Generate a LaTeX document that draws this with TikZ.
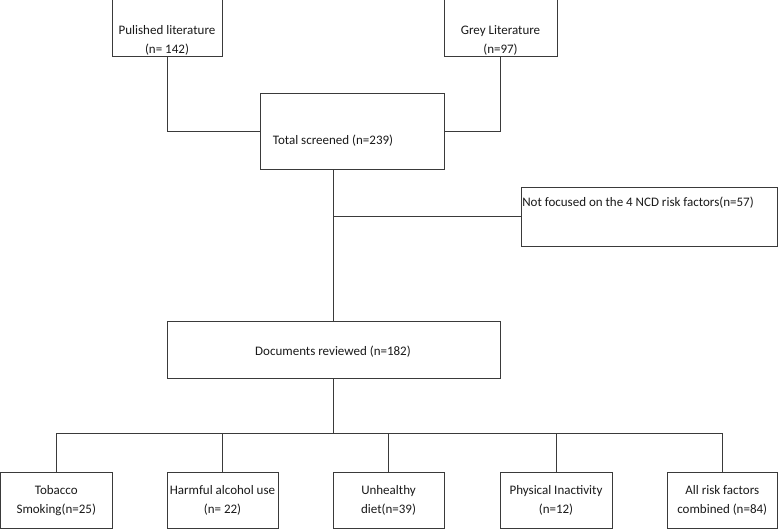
\documentclass[tikz,border=0pt]{standalone}
\usepackage{fontspec}
\setmainfont{Carlito}
\usetikzlibrary{calc,positioning}
\definecolor{flowLine}{HTML}{3A3A3A}
\definecolor{flowInk}{HTML}{1A1A1A}
\begin{document}
\begin{tikzpicture}[x=1pt,y=-1pt,line cap=butt,line join=miter]
\useasboundingbox[fill=white] (0,0) rectangle (778,529);
\tikzset{box/.style={draw=flowLine,line width=1pt,inner sep=0pt,fill=white},txt/.style={text=flowInk,font=\fontsize{13}{19}\selectfont,align=center,inner sep=0pt},link/.style={draw=flowLine,line width=1pt}}
% sources
\node[box,minimum width=110pt,minimum height=57pt] (pub) at (167,28.5) {};
\node[box,minimum width=113pt,minimum height=57pt] (grey) at (500.5,28.5) {};
\node[txt] (pubtxt) at (167,40) {Pulished literature\\(n= 142)};
\node[txt] (greytxt) at (500.5,40) {Grey Literature\\(n=97)};
% screening
\node[box,minimum width=184pt,minimum height=76pt] (total) at (352,132) {};
\node[txt] (totaltxt) at (333,141) {Total screened (n=239)};
\node[box,minimum width=256pt,minimum height=58pt] (ncd) at (649,217) {};
\node[txt] (ncdtxt) at (638,203) {Not focused on the 4 NCD risk factors(n=57)};
\node[box,minimum width=333pt,minimum height=57pt] (docs) at (333.5,349.5) {};
\node[txt] (docstxt) at (333,352) {Documents reviewed (n=182)};
% risk factors
\node[box,minimum width=111.5pt,minimum height=56.5pt] (tob) at (56.25,500.25) {};
\node[box,minimum width=111pt,minimum height=56.5pt] (alc) at (222.5,500.25) {};
\node[box,minimum width=111pt,minimum height=56.5pt] (diet) at (388.5,500.25) {};
\node[box,minimum width=112pt,minimum height=56.5pt] (phys) at (556,500.25) {};
\node[box,minimum width=110.5pt,minimum height=56.5pt] (all) at (722.25,500.25) {};
\node[txt] at (tob.center) {Tobacco\\Smoking(n=25)};
\node[txt] at (alc.center) {Harmful alcohol use\\(n= 22)};
\node[txt] at (diet.center) {Unhealthy\\diet(n=39)};
\node[txt] at (phys.center) {Physical Inactivity\\(n=12)};
\node[txt] at (all.center) {All risk factors\\combined (n=84)};
% connectors
\draw[link] (pub.south) |- (total.west);
\draw[link] (grey.south) |- (total.east);
\draw[link] (docs.north) -- (docs.north |- total.south);
\draw[link] (ncd.west) -- (ncd.west -| docs.north);
\coordinate (bus) at (333.5,433);
\draw[link] (docs.south) -- (bus);
\foreach \b in {tob,alc,diet,phys,all}
  \draw[link] (\b.north) |- (bus);
\end{tikzpicture}
\end{document}
